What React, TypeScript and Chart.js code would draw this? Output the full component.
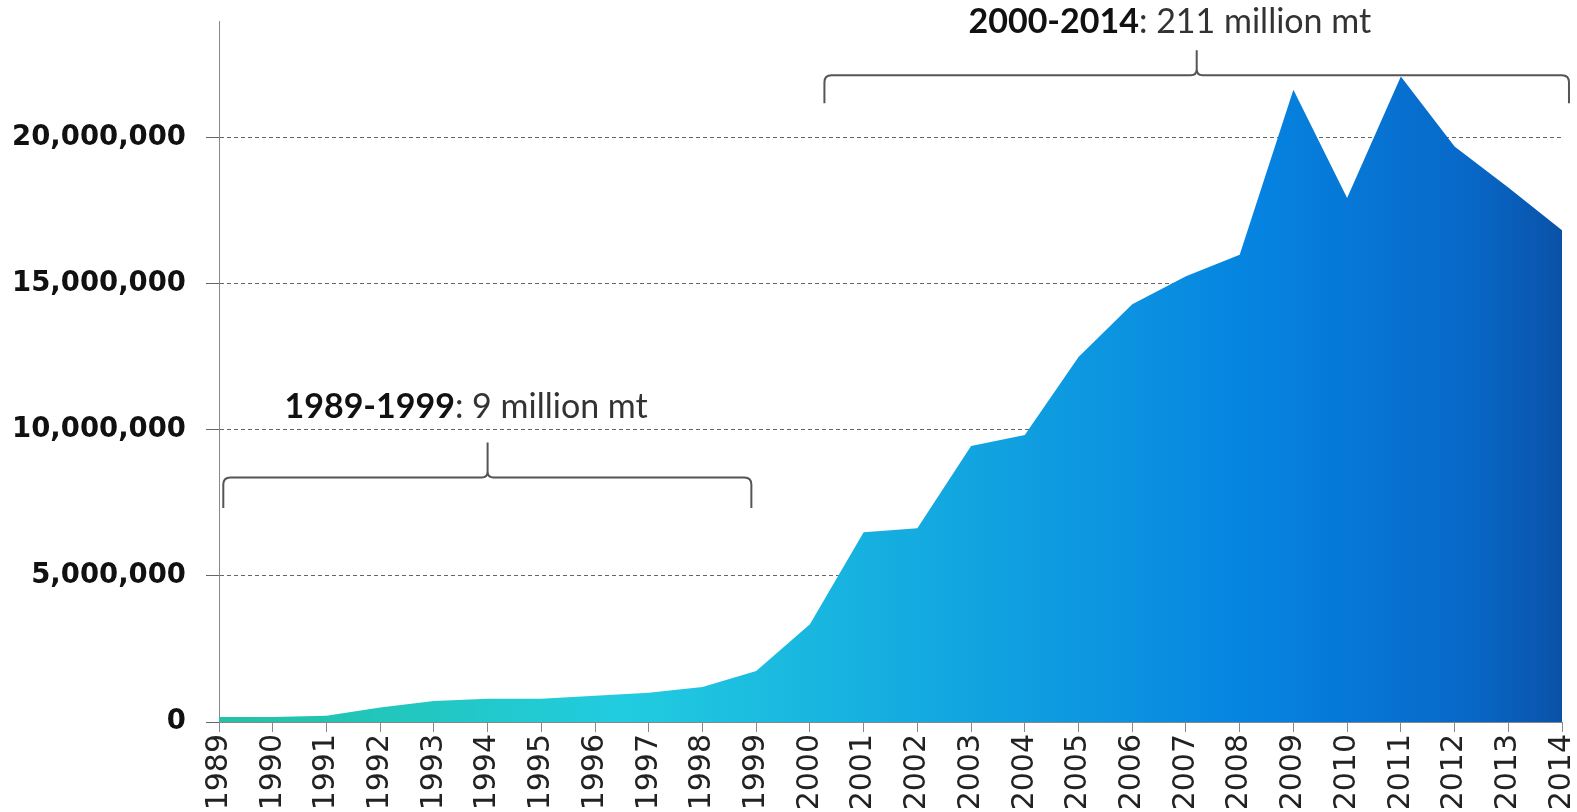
import React, { useEffect, useRef } from "react";
import { Chart, registerables } from "chart.js";

Chart.register(...registerables);

const years: string[] = [
  "1989", "1990", "1991", "1992", "1993", "1994", "1995", "1996", "1997",
  "1998", "1999", "2000", "2001", "2002", "2003", "2004", "2005", "2006",
  "2007", "2008", "2009", "2010", "2011", "2012", "2013", "2014",
];

const volumes: number[] = [
  170000, 170000, 210000, 500000, 720000, 800000, 800000, 900000, 1000000,
  1200000, 1750000, 3350000, 6500000, 6630000, 9450000, 9830000, 12500000,
  14300000, 15260000, 16000000, 21650000, 17940000, 22100000, 19700000,
  18300000, 16840000,
];

const yTicks: number[] = [0, 5000000, 10000000, 15000000, 20000000];
const yMax = 24000000;

// annotation definitions (in data units: x = category index, y = value)
const bracketA = { x0: 0.08, x1: 9.91, xMid: 5.0, yLine: 8370000, yEnd: 7330000, yTip: 9570000 };
const bracketB = { x0: 11.27, x1: 25.13, xMid: 18.2, yLine: 22140000, yEnd: 21180000, yTip: 23000000 };
const labelA = { x: 4.6, y: 10800000, bold: "1989-1999", rest: ": 9 million mt" };
const labelB = { x: 17.7, y: 23950000, bold: "2000-2014", rest: ": 211 million mt" };

const gradientStops: [number, string][] = [
  [0, "#22c2a2"],
  [0.3, "#22cce0"],
  [0.55, "#12a6e0"],
  [0.78, "#0582e0"],
  [0.93, "#0868c8"],
  [1, "#0a52a8"],
];

function drawBrace(ctx: CanvasRenderingContext2D, xs: any, ys: any, b: typeof bracketA) {
  const x0 = xs.getPixelForValue(b.x0);
  const x1 = xs.getPixelForValue(b.x1);
  const xm = xs.getPixelForValue(b.xMid);
  const yl = ys.getPixelForValue(b.yLine);
  const ye = ys.getPixelForValue(b.yEnd);
  const yt = ys.getPixelForValue(b.yTip);
  const r = 7;
  ctx.save();
  ctx.strokeStyle = "#555";
  ctx.lineWidth = 2;
  ctx.beginPath();
  ctx.moveTo(x0, ye);
  ctx.lineTo(x0, yl + r);
  ctx.quadraticCurveTo(x0, yl, x0 + r, yl);
  ctx.lineTo(xm - 6, yl);
  ctx.quadraticCurveTo(xm, yl, xm, yl - 6);
  ctx.lineTo(xm, yt);
  ctx.moveTo(xm, yl - 6);
  ctx.quadraticCurveTo(xm, yl, xm + 6, yl);
  ctx.lineTo(x1 - r, yl);
  ctx.quadraticCurveTo(x1, yl, x1, yl + r);
  ctx.lineTo(x1, ye);
  ctx.stroke();
  ctx.restore();
}

function drawLabel(ctx: CanvasRenderingContext2D, xs: any, ys: any, l: typeof labelA) {
  const cx = xs.getPixelForValue(l.x);
  const cy = ys.getPixelForValue(l.y);
  ctx.save();
  ctx.textBaseline = "middle";
  ctx.textAlign = "left";
  const boldFont = "bold 34px Lato";
  const regFont = "34px Lato";
  ctx.font = boldFont;
  const wb = ctx.measureText(l.bold).width;
  ctx.font = regFont;
  const wr = ctx.measureText(l.rest).width;
  const left = cx - (wb + wr) / 2;
  ctx.font = boldFont;
  ctx.fillStyle = "#111";
  ctx.fillText(l.bold, left, cy);
  ctx.font = regFont;
  ctx.fillStyle = "#333";
  ctx.fillText(l.rest, left + wb, cy);
  ctx.restore();
}

const annotationPlugin = {
  id: "braces",
  afterDraw(chart: any) {
    const ctx = chart.ctx;
    const xs = chart.scales.x;
    const ys = chart.scales.y;
    drawBrace(ctx, xs, ys, bracketA);
    drawBrace(ctx, xs, ys, bracketB);
    drawLabel(ctx, xs, ys, labelA);
    drawLabel(ctx, xs, ys, labelB);
  },
};

export default function App() {
  const canvasRef = useRef<HTMLCanvasElement | null>(null);

  useEffect(() => {
    document.body.style.margin = "0";
    const canvas = canvasRef.current;
    if (!canvas) return;
    const chart = new Chart(canvas, {
      type: "line",
      data: {
        labels: years,
        datasets: [
          {
            data: volumes,
            fill: "origin",
            borderWidth: 0,
            pointRadius: 0,
            tension: 0,
            backgroundColor: (c: any) => {
              const area = c.chart.chartArea;
              if (!area) return "#12a6e0";
              const g = c.chart.ctx.createLinearGradient(area.left, 0, area.right, 0);
              gradientStops.forEach(([o, col]) => g.addColorStop(o, col));
              return g;
            },
          },
        ],
      },
      options: {
        animation: false,
        responsive: true,
        maintainAspectRatio: false,
        layout: { autoPadding: false, padding: { top: 21, right: 15, left: 0, bottom: 0 } },
        plugins: { legend: { display: false }, tooltip: { enabled: false } },
        scales: {
          x: {
            offset: false,
            afterFit: (s: any) => {
              s.height = 90;
              s.paddingLeft = 0;
              s.paddingRight = 0;
              s.paddingTop = 0;
              s.paddingBottom = 0;
            },
            grid: {
              drawOnChartArea: false,
              tickLength: 10,
              color: "#888",
            },
            border: { color: "#888", width: 1 },
            ticks: {
              autoSkip: false,
              minRotation: 90,
              maxRotation: 90,
              padding: 2,
              color: "#222",
              font: { family: "DejaVu Sans", size: 30 },
            },
          },
          y: {
            min: 0,
            max: yMax,
            afterFit: (s: any) => {
              s.width = 219;
              s.paddingLeft = 0;
              s.paddingRight = 0;
              s.paddingTop = 0;
              s.paddingBottom = 0;
            },
            afterBuildTicks: (s: any) => {
              s.ticks = yTicks.map((v) => ({ value: v }));
            },
            grid: {
              color: "#666",
              lineWidth: 1,
              tickBorderDash: [],
              tickLength: 13,
            },
            border: { color: "#888", width: 1, dash: [4, 3] },
            ticks: {
              padding: 20,
              color: "#111",
              font: { family: "DejaVu Sans", size: 27.5, weight: "bold" },
              callback: (v: any) => Number(v).toLocaleString("en-US"),
            },
          },
        },
      },
      plugins: [annotationPlugin],
    });
    return () => chart.destroy();
  }, []);

  return (
    <div style={{ width: 1577, height: 812, position: "relative" }}>
      <canvas ref={canvasRef} />
    </div>
  );
}
